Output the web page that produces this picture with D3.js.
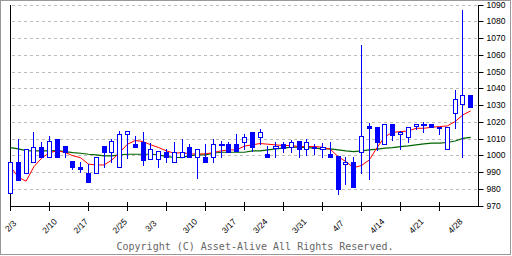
<!DOCTYPE html>
<html>
<head>
<meta charset="utf-8">
<script src="https://cdn.jsdelivr.net/npm/d3@7"></script>
<style>
  html, body { margin: 0; padding: 0; background: #fff; }
  svg { display: block; }
</style>
</head>
<body>
<svg id="chart" width="512" height="256"></svg>
<script>
const dates = ["2/3","2/4","2/5","2/6","2/7","2/10","2/12","2/13","2/14","2/17",
  "2/18","2/19","2/20","2/21","2/25","2/26","2/27","2/28","3/3","3/4",
  "3/5","3/6","3/7","3/10","3/11","3/12","3/13","3/14","3/17","3/18",
  "3/19","3/21","3/24","3/25","3/26","3/27","3/28","3/31","4/1","4/2",
  "4/3","4/4","4/7","4/8","4/9","4/10","4/11","4/14","4/15","4/16",
  "4/17","4/18","4/21","4/22","4/23","4/24","4/25","4/28","4/30","5/1"];
const openV  = [978,996,989.6,996,1005,999.5,1010,1006,997,993.3,
  989.7,989.6,1006,1002.5,993,1012.9,1007,1008,997.9,998,
  1002.5,996.5,999.5,1005,999.5,999,999,1007,1007,1007,
  1008,1014,1011,1001,1005.5,1007,1005.5,1009,1004,1005.5,
  1004.5,1001,1000,995,996,1002.5,1017.8,1017,1007,1018.8,
  1012.8,1011,1018,1018.8,1018.8,1017.4,1004,1025.8,1030.8,1036.2];
const highV  = [996,1010,1004,1014,1008,1012,1010,1006,997,996.5,
  995,999.1,1006,1010,1015,1014.9,1012,1014.3,1007.9,1003,
  1004,1008.5,1010,1007,1004,1007,1010,1009,1008.5,1013,
  1013,1014,1016,1006,1008.5,1008.5,1009.5,1009,1010,1007,
  1007.5,1008,1000,999.5,999,1066,1019.8,1017,1018.8,1018.8,
  1014.6,1017,1018.8,1020.2,1018.8,1017.4,1017,1039.3,1087,1036.2];
const lowV   = [977.6,985.6,989.6,996,999.5,999.5,999,999,992,990.4,
  984.5,989.6,993.5,996,993,998.9,1005.5,994.5,997.9,993.5,
  996,996,999.5,999.5,986.6,996,996,999.5,1002.5,1003,
  1004,1003,1007,999,999.5,1002,1002,999,1000.5,1001,
  999.5,999.5,977.4,983,981.6,989.5,986,1003.5,1007,1009.4,
  1004,1008.4,1015.8,1014.4,1017.4,1012.8,1004,1016.8,999.5,1029.4];
const closeV = [996,985.6,1004,1005,999.5,1008.7,999,1002,993,991.8,
  984.5,999.1,1002.5,1008.7,1013,1014.9,1005.5,997.7,1003.9,1003,
  999,1002.5,1002.5,999.5,1004,996,1007,1007,1002.5,1003,
  1011,1005.5,1014,999,1006,1004.5,1008,1004,1008,1004.5,
  1005.5,999.5,980,996,981.6,1011.8,1016.8,1008.4,1018.8,1012.4,
  1014.4,1017,1018.8,1018.8,1017.4,1016.8,1017,1033.8,1036.2,1029.4];
const maShort = [993.5,987.2,984.8,993.5,998.6,1001.8,1003,1002,1000,998.8,
  995,994.5,994.5,997.5,1002,1006.9,1009.1,1008.5,1006.5,1004.9,
  1002.9,1001.5,1001.9,1001.1,1001.1,1001.1,1001.9,1002.9,1003.5,1003.5,
  1005.8,1006.5,1007.3,1006.9,1006.5,1006.1,1006.1,1005.5,1005.5,1005.5,
  1005.1,1003.9,999.5,996.5,992.9,994.2,997.5,1004.9,1011.4,1014,
  1014.4,1014.8,1016.4,1016.4,1017,1017.4,1017.8,1020.4,1024.4,1026.8];
const maLong = [1004.9,1004.1,1003.1,1002.9,1002.9,1002.9,1003.1,1002.5,1001.9,1001.5,
  1000.9,1000.5,999.9,999.9,1000.5,1000.9,1000.9,1000.9,1000.9,1000.5,
  999.5,999.1,998.9,1000.1,1000.5,1000.5,1001.5,1002.1,1002.1,1002.1,
  1002.1,1002.9,1002.9,1003.5,1004.1,1004.5,1005.1,1005.1,1004.9,1004.5,
  1004.1,1004.1,1003.5,1002.9,1002.5,1002.9,1003.5,1003.9,1004.5,1004.9,
  1005.5,1005.9,1006.5,1007.1,1007.5,1007.5,1007.9,1008.8,1010.4,1011];
const weekLabels = ["2/3","2/10","2/17","2/25","3/3","3/10","3/17","3/24","3/31","4/7","4/14","4/21","4/28"];
const yTickValues = [970,980,990,1000,1010,1020,1030,1040,1050,1060,1070,1080,1090];
const copyright = "Copyright (C) Asset-Alive All Rights Reserved.";

const svg = d3.select("#chart");
const x = d3.scaleLinear().domain([0, 60]).range([10.5, 478.5]);
const y = d3.scaleLinear().domain([970, 1090]).range([206, 5]);
const px = v => Math.floor(v) + 0.5;

// frame
svg.append("rect").attr("x", 0.5).attr("y", 0.5).attr("width", 510).attr("height", 254)
  .attr("fill", "none").attr("stroke", "#999");

// grid
svg.append("g").selectAll("line").data(yTickValues.filter(v => v > 970)).join("line")
  .attr("x1", 12).attr("x2", 478)
  .attr("y1", d => px(y(d))).attr("y2", d => px(y(d)))
  .attr("stroke", "#bbb").attr("stroke-dasharray", "3,3");

// right axis
const yAxis = d3.axisRight(y).tickValues(yTickValues).tickSize(5).tickPadding(3).tickFormat(d3.format("d"));
const gy = svg.append("g").attr("transform", "translate(478.5,0)").call(yAxis);
gy.select(".domain").remove();
gy.selectAll(".tick line").attr("stroke", "#000").attr("transform", function() {
  return null;
});
gy.selectAll(".tick").attr("transform", d => `translate(0,${px(y(d))})`);
gy.selectAll(".tick text").attr("font-family", "Liberation Sans, Arial, sans-serif")
  .attr("font-size", 8.5).attr("fill", "#000");

// axes lines
svg.append("line").attr("x1", 10.5).attr("x2", 10.5).attr("y1", 5).attr("y2", 207).attr("stroke", "#000");
svg.append("line").attr("x1", 478.5).attr("x2", 478.5).attr("y1", 5).attr("y2", 207).attr("stroke", "#000");
svg.append("line").attr("x1", 10).attr("x2", 479).attr("y1", 206.5).attr("y2", 206.5).attr("stroke", "#000");

// bottom ticks every 5 slots
const tickIdx = d3.range(0, 60, 5);
svg.append("g").selectAll("line").data(tickIdx).join("line")
  .attr("x1", d => px(x(d))).attr("x2", d => px(x(d)))
  .attr("y1", 202).attr("y2", 211).attr("stroke", "#000");

// date labels
svg.append("g").selectAll("text").data(weekLabels).join("text")
  .attr("transform", d => `translate(${x(dates.indexOf(d))},226) rotate(-45)`)
  .attr("text-anchor", "middle").attr("dominant-baseline", "central")
  .attr("font-family", "Liberation Sans, Arial, sans-serif").attr("font-size", 8.5)
  .attr("fill", "#000").text(d => d);

// moving averages
const idx = d3.range(dates.length);
const lineGen = arr => d3.line().x(i => x(i)).y(i => y(arr[i]))(idx);
svg.append("path").attr("d", lineGen(maLong)).attr("fill", "none").attr("stroke", "#006400").attr("stroke-width", 1.2);
svg.append("path").attr("d", lineGen(maShort)).attr("fill", "none").attr("stroke", "#ff0000").attr("stroke-width", 1);

// candles
const blue = "#0000ff";
const g = svg.append("g").attr("shape-rendering", "crispEdges");
idx.forEach(i => {
  const cx = px(x(i));
  const o = openV[i], c = closeV[i], h = highV[i], l = lowV[i];
  g.append("line").attr("x1", cx).attr("x2", cx)
    .attr("y1", Math.round(y(h))).attr("y2", Math.round(y(l)) + 1).attr("stroke", blue);
  const top = Math.round(y(Math.max(o, c)));
  const bot = Math.round(y(Math.min(o, c)));
  const up = c >= o;
  if (bot - top < 2) {
    g.append("rect").attr("x", cx - 2.5).attr("y", top).attr("width", 5).attr("height", Math.max(1, bot - top + 1))
      .attr("fill", up ? "#fff" : blue).attr("stroke", blue).attr("stroke-width", up ? 1 : 0);
  } else if (up) {
    g.append("rect").attr("x", cx - 2).attr("y", top + 0.5).attr("width", 4).attr("height", bot - top)
      .attr("fill", "#fff").attr("stroke", blue);
  } else {
    g.append("rect").attr("x", cx - 2.5).attr("y", top).attr("width", 5).attr("height", bot - top + 1)
      .attr("fill", blue);
  }
});

// copyright
svg.append("text").attr("x", 255).attr("y", 250).attr("text-anchor", "middle")
  .attr("font-family", "DejaVu Sans Mono, monospace").attr("font-size", 10)
  .attr("fill", "#666").text(copyright);
</script>
</body>
</html>
